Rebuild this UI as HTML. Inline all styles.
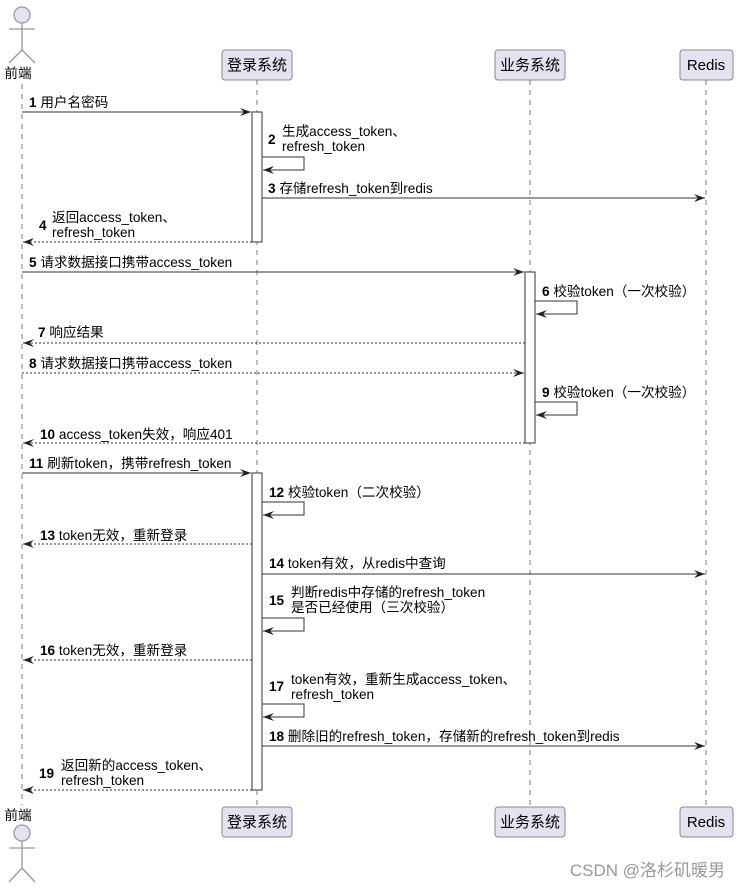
<!DOCTYPE html>
<html><head><meta charset="utf-8"><style>
html,body{margin:0;padding:0;background:#fff;}
svg{display:block;}
text{font-family:"Liberation Sans","Noto Sans CJK SC",sans-serif;font-size:13.6px;fill:#000;}
.n{font-weight:bold;}
.pt{font-size:15px;}
</style></head><body>
<svg width="739" height="889" viewBox="0 0 739 889" xmlns="http://www.w3.org/2000/svg">
<defs>
<marker id="a" markerWidth="12" markerHeight="10" refX="11" refY="5" orient="auto" markerUnits="userSpaceOnUse">
<polygon points="0,1 11,5 0,9 4,5" fill="#222"/>
</marker>
</defs>
<g stroke="#a8a8a8" stroke-width="1.5" stroke-dasharray="5,5">
<line x1="22" y1="84" x2="22" y2="805"/>
<line x1="257" y1="80" x2="257" y2="807"/>
<line x1="530" y1="80" x2="530" y2="807"/>
<line x1="706" y1="80" x2="706" y2="807"/>
</g>
<g fill="#e2e2f0" stroke="#888" stroke-width="1">
<rect x="222" y="50" width="70" height="30" rx="3"/>
<rect x="495" y="50" width="70" height="30" rx="3"/>
<rect x="680" y="50" width="53" height="30" rx="3"/>
<rect x="222" y="807" width="70" height="30" rx="3"/>
<rect x="495" y="807" width="70" height="30" rx="3"/>
<rect x="680" y="807" width="53" height="30" rx="3"/>
</g>
<text x="257" y="70" text-anchor="middle" class="pt">登录系统</text>
<text x="530" y="70" text-anchor="middle" class="pt">业务系统</text>
<text x="706" y="70" text-anchor="middle" class="pt">Redis</text>
<text x="257" y="827" text-anchor="middle" class="pt">登录系统</text>
<text x="530" y="827" text-anchor="middle" class="pt">业务系统</text>
<text x="706" y="827" text-anchor="middle" class="pt">Redis</text>
<g stroke="#999" stroke-width="1.3" fill="none">
<circle cx="22" cy="15" r="8" fill="#e2e2f0"/>
<line x1="22" y1="23" x2="22" y2="50"/>
<line x1="9" y1="29" x2="35" y2="29"/>
<line x1="22" y1="50" x2="9" y2="63"/>
<line x1="22" y1="50" x2="35" y2="63"/>
<circle cx="22" cy="833" r="8" fill="#e2e2f0"/>
<line x1="22" y1="841" x2="22" y2="868"/>
<line x1="9" y1="848" x2="35" y2="848"/>
<line x1="22" y1="868" x2="9" y2="882"/>
<line x1="22" y1="868" x2="35" y2="882"/>
</g>
<text x="18" y="78" text-anchor="middle">前端</text>
<text x="18" y="820" text-anchor="middle">前端</text>
<g fill="#fff" stroke="#555" stroke-width="1.2">
<rect x="252" y="112" width="10" height="130"/>
<rect x="525" y="272" width="10" height="171"/>
<rect x="252" y="473" width="10" height="317"/>
</g>
<g stroke="#333" stroke-width="1" fill="none">
<line x1="22" y1="112" x2="251" y2="112" marker-end="url(#a)"/>
<polyline points="262,157 304,157 304,170 263,170" marker-end="url(#a)"/>
<line x1="262" y1="198" x2="705" y2="198" marker-end="url(#a)"/>
<line x1="252" y1="242" x2="23" y2="242" stroke-dasharray="2,2" marker-end="url(#a)"/>
<line x1="22" y1="272" x2="524" y2="272" marker-end="url(#a)"/>
<polyline points="535,301 577,301 577,314 536,314" marker-end="url(#a)"/>
<line x1="525" y1="343" x2="23" y2="343" stroke-dasharray="2,2" marker-end="url(#a)"/>
<line x1="22" y1="373" x2="524" y2="373" stroke-dasharray="2,2" marker-end="url(#a)"/>
<polyline points="535,402 577,402 577,415 536,415" marker-end="url(#a)"/>
<line x1="525" y1="443" x2="23" y2="443" stroke-dasharray="2,2" marker-end="url(#a)"/>
<line x1="22" y1="473" x2="251" y2="473" marker-end="url(#a)"/>
<polyline points="262,502 304,502 304,515 263,515" marker-end="url(#a)"/>
<line x1="252" y1="544" x2="23" y2="544" stroke-dasharray="2,2" marker-end="url(#a)"/>
<line x1="262" y1="574" x2="705" y2="574" marker-end="url(#a)"/>
<polyline points="262,618 304,618 304,631 263,631" marker-end="url(#a)"/>
<line x1="252" y1="660" x2="23" y2="660" stroke-dasharray="2,2" marker-end="url(#a)"/>
<polyline points="262,704 304,704 304,717 263,717" marker-end="url(#a)"/>
<line x1="262" y1="746" x2="705" y2="746" marker-end="url(#a)"/>
<line x1="252" y1="790" x2="23" y2="790" stroke-dasharray="2,2" marker-end="url(#a)"/>
</g>
<text x="29" y="107"><tspan class="n">1</tspan> 用户名密码</text>
<text x="268" y="144" class="n">2</text>
<text x="282" y="136">生成access_token、</text>
<text x="282" y="151">refresh_token</text>
<text x="268" y="193"><tspan class="n">3</tspan> 存储refresh_token到redis</text>
<text x="39" y="230" class="n">4</text>
<text x="52" y="222">返回access_token、</text>
<text x="52" y="237">refresh_token</text>
<text x="29" y="267"><tspan class="n">5</tspan> 请求数据接口携带access_token</text>
<text x="542" y="296"><tspan class="n">6</tspan> 校验token（一次校验）</text>
<text x="38" y="337"><tspan class="n">7</tspan> 响应结果</text>
<text x="29" y="368"><tspan class="n">8</tspan> 请求数据接口携带access_token</text>
<text x="542" y="397"><tspan class="n">9</tspan> 校验token（一次校验）</text>
<text x="40" y="439"><tspan class="n">10</tspan> access_token失效，响应401</text>
<text x="29" y="468"><tspan class="n">11</tspan> 刷新token，携带refresh_token</text>
<text x="269" y="497"><tspan class="n">12</tspan> 校验token（二次校验）</text>
<text x="40" y="540"><tspan class="n">13</tspan> token无效，重新登录</text>
<text x="269" y="568"><tspan class="n">14</tspan> token有效，从redis中查询</text>
<text x="269" y="605" class="n">15</text>
<text x="291" y="597">判断redis中存储的refresh_token</text>
<text x="291" y="612">是否已经使用（三次校验）</text>
<text x="40" y="655"><tspan class="n">16</tspan> token无效，重新登录</text>
<text x="269" y="691" class="n">17</text>
<text x="291" y="684">token有效，重新生成access_token、</text>
<text x="291" y="699">refresh_token</text>
<text x="269" y="741"><tspan class="n">18</tspan> 删除旧的refresh_token，存储新的refresh_token到redis</text>
<text x="39" y="778" class="n">19</text>
<text x="61" y="770">返回新的access_token、</text>
<text x="61" y="785">refresh_token</text>
<text x="725" y="876" text-anchor="end" style="font-size:17px;fill:#999">CSDN @洛杉矶暖男</text>
</svg>
</body></html>
